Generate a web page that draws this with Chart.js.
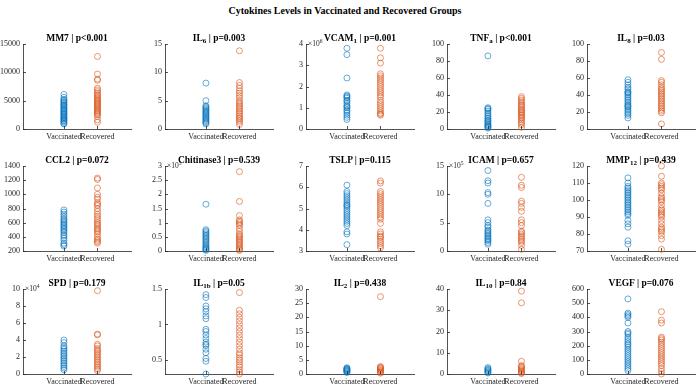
<!DOCTYPE html>
<html>
<head>
<meta charset="utf-8">
<script src="https://cdn.jsdelivr.net/npm/chart.js@4.4.1/dist/chart.umd.min.js"></script>
<style>
    body { margin: 0; background: #fff; width: 700px; height: 387px; position: relative; overflow: hidden;
           font-family: "Liberation Serif", "Times New Roman", serif; color: #000; }
    #main { position: absolute; left: 0; top: 5px; width: 690px; text-align: center; font-weight: bold; font-size: 10px; }
    .panel { position: absolute; }
    .panel canvas { position: absolute; left: 0; top: 0; }
    .ttl { position: absolute; font-weight: bold; font-size: 9.5px; text-align: center; white-space: nowrap; line-height: 12px; }
    .ttl sub { font-size: 7px; vertical-align: -2px; line-height: 0; }
</style>
</head>
<body>
<div id="main">Cytokines Levels in Vaccinated and Recovered Groups</div>
<script>
// groups on the x axis
const groups = ['Vaccinated', 'Recovered'];

// values (panels with an exponent are in displayed units)
const mm7Vacc = [900, 1000, 1200, 1400, 1500, 1700, 1800, 2000, 2100, 2300, 2500, 2600, 2800, 3000, 3100, 3300, 3500, 3600, 3800, 4000, 4200, 4300, 4500, 4700, 4900, 5100, 5200, 5600, 6100];
const mm7Rec = [1200, 1600, 2200, 2500, 2700, 2900, 3100, 3300, 3500, 3700, 3900, 4100, 4300, 4500, 4700, 4900, 5100, 5300, 5500, 5800, 6000, 6300, 6600, 6900, 7200, 8600, 8800, 9700, 12800];
const il6Vacc = [0.9, 1.1, 1.3, 1.5, 1.7, 1.9, 2.1, 2.3, 2.5, 2.7, 2.9, 3.1, 3.3, 3.5, 3.7, 3.9, 4.1, 5.0, 8.1];
const il6Rec = [0.8, 1.2, 1.5, 1.8, 2.0, 2.3, 2.6, 2.9, 3.2, 3.5, 3.8, 4.1, 4.4, 4.7, 5.0, 5.5, 5.9, 6.3, 6.7, 7.2, 7.7, 8.2, 13.8];
const vcamVacc = [0.45, 0.55, 0.65, 0.75, 0.85, 0.9, 1.0, 1.05, 1.1, 1.2, 1.3, 1.35, 1.45, 1.5, 1.55, 1.6, 2.4, 3.5, 3.8];
const vcamRec = [0.65, 0.7, 0.75, 0.85, 0.95, 1.05, 1.15, 1.25, 1.35, 1.5, 1.6, 1.7, 1.8, 1.9, 2.0, 2.1, 2.2, 2.3, 2.4, 2.5, 2.6, 3.1, 3.35, 3.8];
const tnfVacc = [1, 2, 3, 4, 5, 6, 8, 9, 10, 12, 13, 15, 17, 19, 21, 23, 24, 25, 86];
const tnfRec = [2, 5, 7, 9, 11, 13, 14, 16, 17, 19, 20, 22, 23, 25, 27, 28, 30, 32, 34, 36, 38];
const il8Vacc = [13, 16, 18, 20, 22, 24, 26, 27, 28, 30, 32, 34, 36, 38, 40, 42, 43, 44, 47, 49, 52, 55, 58];
const il8Rec = [6, 19, 21, 23, 25, 27, 29, 31, 33, 35, 37, 39, 41, 43, 45, 47, 49, 52, 55, 57, 82, 90];
const ccl2Vacc = [270, 290, 310, 350, 380, 410, 430, 460, 480, 500, 520, 540, 560, 580, 600, 620, 640, 660, 690, 720, 750, 780];
const ccl2Rec = [310, 330, 350, 370, 400, 440, 470, 490, 510, 530, 560, 580, 600, 630, 660, 690, 720, 760, 800, 840, 860, 880, 930, 960, 1000, 1090, 1210, 1230];
const chiVacc = [0.02, 0.05, 0.08, 0.12, 0.15, 0.2, 0.25, 0.3, 0.35, 0.4, 0.45, 0.5, 0.55, 0.6, 0.65, 0.7, 0.75, 1.65];
const chiRec = [0.02, 0.05, 0.1, 0.15, 0.2, 0.25, 0.3, 0.35, 0.4, 0.45, 0.5, 0.55, 0.6, 0.7, 0.8, 0.9, 0.95, 1.0, 1.05, 1.1, 1.25, 1.75, 2.8];
const tslpVacc = [3.3, 3.8, 3.9, 4.2, 4.3, 4.4, 4.5, 4.6, 4.7, 4.8, 4.9, 5.0, 5.1, 5.15, 5.2, 5.3, 5.4, 5.5, 5.6, 5.7, 5.8, 6.1];
const tslpRec = [3.15, 3.25, 3.35, 3.45, 3.55, 3.65, 3.7, 3.8, 3.9, 4.3, 4.5, 4.6, 4.7, 4.8, 4.9, 5.0, 5.1, 5.2, 5.3, 5.4, 5.5, 5.6, 5.7, 5.8, 6.2, 6.3];
const icamVacc = [1.2, 1.5, 1.8, 2.0, 2.2, 2.5, 2.7, 3.0, 3.2, 3.5, 3.7, 4.2, 4.5, 5.0, 5.5, 8.4, 10.0, 10.3, 12.0, 12.4, 14.2];
const icamRec = [0.3, 1.0, 1.5, 1.8, 2.1, 2.4, 2.7, 3.0, 3.3, 3.5, 4.5, 5.0, 5.5, 7.0, 7.7, 8.4, 8.8, 11.2, 11.6, 13.0];
const mmpVacc = [74, 76, 84, 86, 88, 91, 92, 93, 94, 95, 96, 97, 98, 99, 100, 101, 102, 103, 104, 105, 106, 107, 108, 110, 113];
const mmpRec = [71, 77, 79, 81, 82, 83, 84, 86, 88, 90, 91, 92, 93, 94, 95, 97, 99, 100, 101, 102, 104, 106, 107, 108, 109, 110, 114, 120];
const spdVacc = [0.5, 0.7, 0.9, 1.1, 1.3, 1.5, 1.7, 1.9, 2.1, 2.3, 2.5, 2.7, 2.9, 3.1, 3.3, 3.7, 4.0];
const spdRec = [0.4, 0.6, 0.8, 1.0, 1.2, 1.4, 1.6, 1.8, 2.0, 2.2, 2.4, 2.6, 2.8, 3.0, 3.3, 3.5, 4.6, 4.7, 9.8];
const il1bVacc = [0.3, 0.48, 0.52, 0.6, 0.65, 0.7, 0.72, 0.75, 0.8, 0.85, 0.9, 0.93, 1.08, 1.12, 1.18, 1.22, 1.26, 1.38, 1.42];
const il1bRec = [0.3, 0.33, 0.36, 0.4, 0.43, 0.47, 0.5, 0.53, 0.57, 0.6, 0.65, 0.7, 0.75, 0.8, 0.85, 0.9, 0.95, 1.0, 1.05, 1.1, 1.15, 1.2, 1.45];
const il2Vacc = [0.5, 0.8, 1.0, 1.2, 1.4, 1.6, 1.8, 2.0, 2.2];
const il2Rec = [0.3, 0.6, 0.9, 1.2, 1.5, 1.8, 2.1, 2.4, 2.6, 27.3];
const il10Vacc = [0.5, 0.9, 1.3, 1.7, 2.1, 2.5, 3.0];
const il10Rec = [0.2, 0.6, 1.0, 1.5, 2.0, 2.5, 3.0, 3.5, 4.0, 6.0, 33.5, 39];
const vegfVacc = [25, 40, 55, 70, 85, 100, 115, 130, 145, 160, 175, 190, 205, 215, 230, 245, 260, 280, 290, 300, 360, 400, 410, 420, 430, 530];
const vegfRec = [0, 20, 40, 60, 75, 90, 105, 120, 135, 150, 165, 180, 195, 210, 225, 240, 250, 260, 360, 380, 440];

// y tick labels for each panel
const mm7Ticks = [0, 5000, 10000, 15000];
const il6Ticks = [0, 5, 10, 15];
const vcamTicks = [0, 1, 2, 3, 4];
const tnfTicks = [0, 20, 40, 60, 80, 100];
const il8Ticks = [0, 20, 40, 60, 80, 100];
const ccl2Ticks = [200, 400, 600, 800, 1000, 1200, 1400];
const chiTicks = [0, 0.5, 1, 1.5, 2, 2.5, 3];
const tslpTicks = [3, 4, 5, 6, 7];
const icamTicks = [0, 5, 10, 15];
const mmpTicks = [70, 80, 90, 100, 110, 120];
const spdTicks = [0, 2, 4, 6, 8, 10];
const il1bTicks = [0.5, 1, 1.5];
const il2Ticks = [0, 5, 10, 15, 20, 25, 30];
const il10Ticks = [0, 10, 20, 30, 40];
const vegfTicks = [0, 100, 200, 300, 400, 500, 600];

const panels = [
    { title: 'MM7 | p&lt;0.001', vacc: mm7Vacc, rec: mm7Rec, ticks: mm7Ticks },
    { title: 'IL<sub>6</sub> | p=0.003', vacc: il6Vacc, rec: il6Rec, ticks: il6Ticks },
    { title: 'VCAM<sub>1</sub> | p=0.001', vacc: vcamVacc, rec: vcamRec, ticks: vcamTicks, exp: 6 },
    { title: 'TNF<sub>a</sub> | p&lt;0.001', vacc: tnfVacc, rec: tnfRec, ticks: tnfTicks },
    { title: 'IL<sub>8</sub> | p=0.03', vacc: il8Vacc, rec: il8Rec, ticks: il8Ticks },
    { title: 'CCL2 | p=0.072', vacc: ccl2Vacc, rec: ccl2Rec, ticks: ccl2Ticks },
    { title: 'Chitinase3 | p=0.539', vacc: chiVacc, rec: chiRec, ticks: chiTicks, exp: 5 },
    { title: 'TSLP | p=0.115', vacc: tslpVacc, rec: tslpRec, ticks: tslpTicks },
    { title: 'ICAM | p=0.657', vacc: icamVacc, rec: icamRec, ticks: icamTicks, exp: 5 },
    { title: 'MMP<sub>12</sub> | p=0.439', vacc: mmpVacc, rec: mmpRec, ticks: mmpTicks },
    { title: 'SPD | p=0.179', vacc: spdVacc, rec: spdRec, ticks: spdTicks, exp: 4 },
    { title: 'IL<sub>1b</sub> | p=0.05', vacc: il1bVacc, rec: il1bRec, ticks: il1bTicks, yMin: 0.3 },
    { title: 'IL<sub>2</sub> | p=0.438', vacc: il2Vacc, rec: il2Rec, ticks: il2Ticks },
    { title: 'IL<sub>10</sub> | p=0.84', vacc: il10Vacc, rec: il10Rec, ticks: il10Ticks },
    { title: 'VEGF | p=0.076', vacc: vegfVacc, rec: vegfRec, ticks: vegfTicks }
];

const blue = 'rgba(0,114,189,0.6)';
const orange = 'rgba(217,83,25,0.6)';
const axisColor = '#262626';
const serif = '"Liberation Serif", "Times New Roman", serif';

// layout of the 3x5 grid
const colX = [23, 165, 306, 447, 587];
const rowY = [44, 166, 289];
const plotW = 108, plotH = 85;
const padL = 36, padT = 24, padR = 4, padB = 20;

// inward tick marks and the MATLAB style "x10^n" label
const axisDecor = {
    id: 'axisDecor',
    afterDraw(chart, args, opts) {
        const { ctx, chartArea: a, scales: { x, y } } = chart;
        ctx.save();
        ctx.strokeStyle = axisColor;
        ctx.lineWidth = 0.8;
        ctx.beginPath();
        y.ticks.forEach(t => {
            const py = Math.round(y.getPixelForValue(t.value)) + 0.5;
            ctx.moveTo(a.left, py); ctx.lineTo(a.left + 3, py);
        });
        x.ticks.forEach(t => {
            const px = Math.round(x.getPixelForValue(t.value)) + 0.5;
            ctx.moveTo(px, a.bottom); ctx.lineTo(px, a.bottom - 3);
        });
        ctx.stroke();
        if (opts.exp) {
            ctx.fillStyle = axisColor;
            ctx.textBaseline = 'alphabetic';
            ctx.textAlign = 'left';
            ctx.font = '7.5px ' + serif;
            ctx.fillText('\u00d710', a.left + 2, a.top + 2);
            const w = ctx.measureText('\u00d710').width;
            ctx.font = '5.5px ' + serif;
            ctx.fillText(String(opts.exp), a.left + 2 + w, a.top - 1.5);
        }
        ctx.restore();
    }
};

panels.forEach((p, i) => {
    const col = i % 5, row = Math.floor(i / 5);
    const W = padL + plotW + padR, H = padT + plotH + padB;

    const div = document.createElement('div');
    div.className = 'panel';
    div.style.left = (colX[col] - padL) + 'px';
    div.style.top = (rowY[row] - padT) + 'px';
    div.style.width = W + 'px';
    div.style.height = H + 'px';

    const cv = document.createElement('canvas');
    cv.width = W; cv.height = H;
    cv.style.width = W + 'px'; cv.style.height = H + 'px';
    div.appendChild(cv);

    const ttl = document.createElement('div');
    ttl.className = 'ttl';
    ttl.style.left = padL + 'px';
    ttl.style.width = plotW + 'px';
    ttl.style.top = (padT - 12) + 'px';
    ttl.innerHTML = p.title;
    div.appendChild(ttl);
    document.body.appendChild(div);

    const yMin = p.yMin !== undefined ? p.yMin : p.ticks[0];
    const yMax = p.ticks[p.ticks.length - 1];

    new Chart(cv.getContext('2d'), {
        type: 'scatter',
        data: {
            datasets: [
                {
                    data: p.vacc.map(v => ({ x: 1, y: v })),
                    borderColor: blue, backgroundColor: 'transparent',
                    pointRadius: 3, pointBorderWidth: 1, clip: false
                },
                {
                    data: p.rec.map(v => ({ x: 2, y: v })),
                    borderColor: orange, backgroundColor: 'transparent',
                    pointRadius: 3, pointBorderWidth: 1, clip: false
                }
            ]
        },
        options: {
            responsive: false,
            animation: false,
            layout: { padding: { top: padT, right: padR, left: 0, bottom: 0 }, autoPadding: false },
            plugins: {
                legend: { display: false },
                tooltip: { enabled: false },
                axisDecor: { exp: p.exp || 0 }
            },
            scales: {
                x: {
                    type: 'linear', min: -0.22, max: 3.0,
                    afterBuildTicks: s => { s.ticks = [{ value: 1 }, { value: 2 }]; },
                    afterFit: s => { s.height = padB; },
                    ticks: {
                        callback: v => groups[v - 1], color: axisColor, padding: 3,
                        maxRotation: 0, autoSkip: false, font: { family: serif, size: 8 }
                    },
                    grid: { display: false, drawTicks: false },
                    border: { color: axisColor, width: 0.8 }
                },
                y: {
                    type: 'linear', min: yMin, max: yMax,
                    afterBuildTicks: s => { s.ticks = p.ticks.map(v => ({ value: v })); },
                    afterFit: s => { s.width = padL; },
                    ticks: {
                        callback: v => String(v), color: axisColor, padding: 3,
                        font: { family: serif, size: 8 }
                    },
                    grid: { display: false, drawTicks: false },
                    border: { color: axisColor, width: 0.8 }
                }
            }
        },
        plugins: [axisDecor]
    });
});
</script>
</body>
</html>
